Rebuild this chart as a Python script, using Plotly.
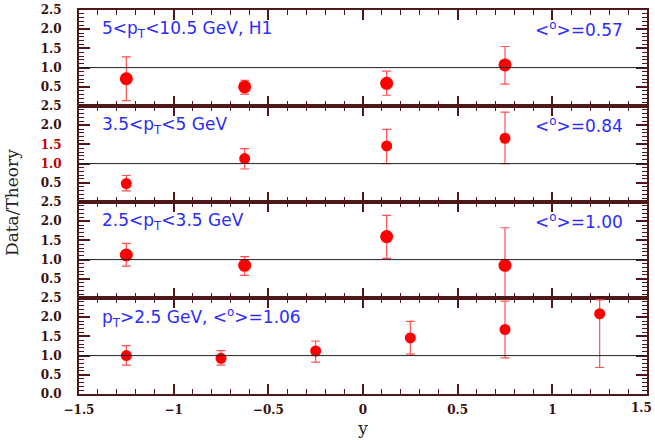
import plotly.graph_objects as go
from plotly.subplots import make_subplots

# ---- data ----
x_bins = [-1.25, -0.625, 0.125, 0.75]
p1_val = [0.71, 0.50, 0.59, 1.07]
p1_hi = [1.28, 0.67, 0.91, 1.55]
p1_lo = [0.14, 0.31, 0.28, 0.57]

p2_val = [0.48, 1.13, 1.46, 1.66]
p2_hi = [0.69, 1.39, 1.89, 2.34]
p2_lo = [0.29, 0.86, 1.00, 1.00]

p3_val = [1.12, 0.85, 1.60, 0.85]
p3_hi = [1.42, 1.08, 2.15, 1.83]
p3_lo = [0.83, 0.59, 1.03, -0.10]

x_all = [-1.25, -0.75, -0.25, 0.25, 0.75, 1.25]
p4_val = [1.00, 0.93, 1.12, 1.46, 1.68, 2.09]
p4_hi = [1.26, 1.13, 1.38, 1.89, 2.42, 2.45]
p4_lo = [0.75, 0.75, 0.83, 1.04, 0.94, 0.69]

x_tickvals = [-1.5, -1.0, -0.5, 0.0, 0.5, 1.0, 1.5]
x_ticktext = ["\u22121.5", "\u22121", "\u22120.5", "0", "0.5", "1", ""]
x_last_label = "1.5"

CIRC = "<sup>o</sup>"
left_labels = ["5<p<sub>T</sub><10.5 GeV, H1", "3.5<p<sub>T</sub><5 GeV",
               "2.5<p<sub>T</sub><3.5 GeV", "p<sub>T</sub>>2.5 GeV, <" + CIRC + ">=1.06"]
right_labels = ["<" + CIRC + ">=0.57", "<" + CIRC + ">=0.84", "<" + CIRC + ">=1.00", None]

panels = [
    (x_bins, p1_val, p1_hi, p1_lo, 13),
    (x_bins, p2_val, p2_hi, p2_lo, 11),
    (x_bins, p3_val, p3_hi, p3_lo, 13),
    (x_all, p4_val, p4_hi, p4_lo, 11),
]

AX = "#4f1818"
BLUE = "#2b2bff"
LBLFONT = dict(family="DejaVu Sans", size=17, color=BLUE)
TICKFONT = dict(family="DejaVu Serif", size=12, color="#3a1010", weight="bold")

fig = make_subplots(rows=4, cols=1, shared_xaxes=True, vertical_spacing=0)

for i, (xs, v, hi, lo, ms) in enumerate(panels, start=1):
    sfx = "" if i == 1 else str(i)
    fig.add_trace(go.Scatter(
        x=xs, y=v, mode="markers",
        marker=dict(color="#ff0000", size=ms),
        error_y=dict(type="data", symmetric=False,
                     array=[h - c for h, c in zip(hi, v)],
                     arrayminus=[c - l for c, l in zip(v, lo)],
                     color="#ff5050", thickness=1.2, width=4.5),
        showlegend=False), row=i, col=1)
    fig.add_shape(type="line", xref=f"x{sfx} domain", yref=f"y{sfx}",
                  x0=0, x1=1, y0=1, y1=1,
                  line=dict(color="#222222", width=1))
    fig.add_annotation(xref=f"x{sfx} domain", yref=f"y{sfx} domain",
                       x=0.037, y=0.8, xanchor="left", yanchor="middle",
                       text=left_labels[i - 1], showarrow=False, font=LBLFONT)
    if right_labels[i - 1]:
        fig.add_annotation(xref=f"x{sfx} domain", yref=f"y{sfx} domain",
                           x=0.962, y=0.8, xanchor="right", yanchor="middle",
                           text=right_labels[i - 1], showarrow=False, font=LBLFONT)

    if i < 4:
        tv = [0.5, 1.0, 1.5, 2.0, 2.5]
    else:
        tv = [0.0, 0.5, 1.0, 1.5, 2.0, 2.5]
    tt = ["%.1f" % t for t in tv]
    if i == 2:
        tt = ["<span style='color:#c00000'>%s</span>" % s if s in ("1.0", "1.5") else s for s in tt]
    fig.update_yaxes(row=i, col=1, range=[0, 2.5], tickvals=tv, ticktext=tt,
                     ticks="inside", ticklen=11, tickwidth=1.5, tickcolor=AX,
                     showline=True, linecolor=AX, linewidth=2, mirror="allticks",
                     showgrid=False, zeroline=False, ticklabelstandoff=13,
                     automargin=False, tickfont=TICKFONT,
                     minor=dict(dtick=0.1, tick0=0, ticks="inside", ticklen=5,
                                tickcolor=AX, tickwidth=1.2, showgrid=False))
    fig.update_xaxes(row=i, col=1, range=[-1.5, 1.5],
                     tickvals=x_tickvals, ticktext=x_ticktext,
                     ticks="inside", ticklen=10, tickwidth=1.5, tickcolor=AX,
                     showline=True, linecolor=AX, linewidth=2, mirror="allticks",
                     showgrid=False, zeroline=False, showticklabels=(i == 4),
                     automargin=False, tickfont=TICKFONT,
                     minor=dict(dtick=0.1, tick0=0, ticks="inside", ticklen=5,
                                tickcolor=AX, tickwidth=1.2, showgrid=False))

# last x tick label, nudged left so that it stays inside the page
fig.add_annotation(xref="x4", yref="y4 domain", x=x_tickvals[-1], y=0,
                   xanchor="right", yanchor="top", xshift=7, yshift=-5,
                   text=x_last_label, showarrow=False, font=TICKFONT)

fig.update_xaxes(row=4, col=1, title=dict(text="y", standoff=6,
                 font=dict(family="DejaVu Serif", size=17, color="#222222")),
                 ticklabelstandoff=4)
fig.add_annotation(xref="paper", yref="paper", x=-0.118, y=0.5, textangle=-90,
                   text="Data/Theory", showarrow=False, xanchor="center", yanchor="middle",
                   font=dict(family="DejaVu Serif", size=17, color="#222222"))

fig.update_layout(width=655, height=440, margin=dict(l=79, r=8, t=10, b=46),
                  paper_bgcolor="white", plot_bgcolor="white")

fig.write_html("out.html")
